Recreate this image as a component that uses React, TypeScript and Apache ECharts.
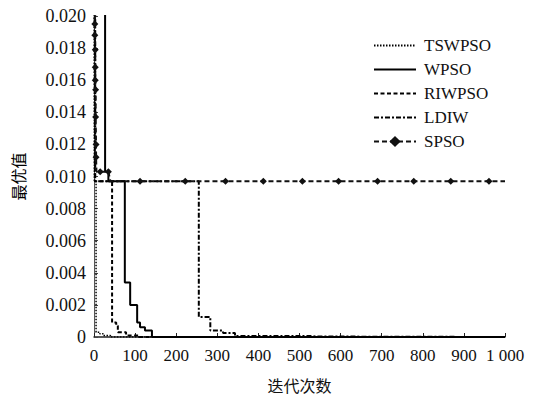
import React, { useEffect, useRef } from "react";
import * as echarts from "echarts";

const xTicks = [0, 100, 200, 300, 400, 500, 600, 700, 800, 900, 1000];
const yTicks = [0, 0.002, 0.004, 0.006, 0.008, 0.01, 0.012, 0.014, 0.016, 0.018, 0.02];
const seriesNames = ["TSWPSO", "WPSO", "RIWPSO", "LDIW", "SPSO"];

// step data: value holds from x until the next point
const tswpso: [number, number][] = [
  [0, 0.03], [1, 0.0097], [5, 0.0003], [14, 0.0002], [22, 0.0001], [40, 0], [1000, 0],
];
const wpso: [number, number][] = [
  [0, 0.03], [27, 0.0103], [35, 0.0097], [75, 0.0034], [88, 0.002], [105, 0.0009],
  [112, 0.0006], [124, 0.0004], [141, 0], [1000, 0],
];
const riwpso: [number, number][] = [
  [0, 0.03], [2, 0.0097], [44, 0.0009], [54, 0.0007], [58, 0.0003], [78, 0.0001], [110, 0], [1000, 0],
];
const ldiw: [number, number][] = [
  [0, 0.03], [3, 0.0097], [255, 0.00125], [283, 0.0004], [314, 0.00025], [343, 0.00006],
  [530, 0.00003], [540, 0], [1000, 0],
];
// SPSO points; marked = shows a marker
const spsoX = [0, 2, 2, 3, 3, 3, 4, 4, 5, 5, 6, 15, 35, 40, 112, 222, 320, 412, 507, 595, 690, 778, 868, 961, 1000];
const spsoY = [0.03, 0.0195, 0.0188, 0.0179, 0.0168, 0.016, 0.0154, 0.0137, 0.012, 0.0112, 0.0103, 0.0103, 0.0103, 0.0097,
  0.0097, 0.0097, 0.0097, 0.0097, 0.0097, 0.0097, 0.0097, 0.0097, 0.0097, 0.0097, 0.0097];
const spsoMarked = [0, 1, 1, 1, 1, 1, 1, 1, 1, 1, 0, 1, 1, 0, 1, 1, 1, 1, 1, 1, 1, 1, 1, 1, 0];

const FONT = "Liberation Serif";
const CJK = "Noto Sans CJK SC";

export default function App() {
  const ref = useRef<HTMLDivElement>(null);
  useEffect(() => {
    if (!ref.current) return;
    const chart = echarts.init(ref.current, null, { renderer: "svg" });
    const spsoData = spsoX.map((x, i) => ({
      value: [x, spsoY[i]],
      symbol: spsoMarked[i] ? "diamond" : "none",
    }));
    const base = {
      type: "line",
      showSymbol: false,
      symbol: "none",
      clip: true,
      silent: true,
    };
    chart.setOption({
      animation: false,
      backgroundColor: "#fff",
      textStyle: { fontFamily: FONT },
      grid: { left: 94, right: 35, top: 16, bottom: 64 },
      legend: {
        orient: "vertical",
        left: 368,
        top: 32,
        itemWidth: 42,
        itemHeight: 14,
        itemGap: 7,
        data: seriesNames.map((n) =>
          n === "SPSO" ? { name: n } : { name: n, itemStyle: { opacity: 0 } }
        ),
        textStyle: { fontFamily: FONT, fontSize: 17, color: "#111", padding: [0, 0, 0, 3] },
      },
      xAxis: {
        type: "value",
        min: 0,
        max: 1000,
        interval: 100,
        name: "迭代次数",
        nameLocation: "middle",
        nameGap: 40,
        nameTextStyle: { fontFamily: CJK, fontSize: 16, color: "#111" },
        axisLine: { show: true, lineStyle: { color: "#222", width: 1.5 } },
        axisTick: { show: true, inside: true, length: 4, lineStyle: { color: "#222" } },
        axisLabel: {
          fontFamily: FONT,
          fontSize: 17,
          color: "#111",
          margin: 10,
          formatter: (v: number) => (v === 1000 ? "1 000" : String(v)),
        },
        splitLine: { show: false },
      },
      yAxis: {
        type: "value",
        min: 0,
        max: 0.02,
        interval: 0.002,
        name: "最优值",
        nameLocation: "middle",
        nameRotate: 90,
        nameGap: 68,
        nameTextStyle: { fontFamily: CJK, fontSize: 16, color: "#000" },
        axisLine: { show: true, lineStyle: { color: "#555", width: 1 } },
        axisTick: { show: true, inside: true, length: 4, lineStyle: { color: "#444" } },
        axisLabel: {
          fontFamily: FONT,
          fontSize: 18,
          color: "#111",
          margin: 8,
          formatter: (v: number) => (v === 0 ? "0" : v.toFixed(3)),
        },
        splitLine: { show: false },
      },
      series: [
        {
          ...base,
          name: seriesNames[0],
          step: "end",
          data: tswpso,
          lineStyle: { color: "#000", width: 1.5, type: [1.5, 1.5] },
          itemStyle: { color: "#000" },
        },
        {
          ...base,
          name: seriesNames[1],
          step: "end",
          data: wpso,
          lineStyle: { color: "#000", width: 2, type: "solid" },
          itemStyle: { color: "#000" },
        },
        {
          ...base,
          name: seriesNames[2],
          step: "end",
          data: riwpso,
          lineStyle: { color: "#000", width: 2, type: [4, 2.5] },
          itemStyle: { color: "#000" },
        },
        {
          ...base,
          name: seriesNames[3],
          step: "end",
          data: ldiw,
          lineStyle: { color: "#000", width: 2, type: [5, 2, 2, 2] },
          itemStyle: { color: "#000" },
        },
        {
          ...base,
          name: seriesNames[4],
          showSymbol: true,
          symbol: "diamond",
          symbolSize: [7, 7],
          data: spsoData,
          lineStyle: { color: "#111", width: 2, type: [5, 3] },
          itemStyle: { color: "#111" },
        },
      ],
    });
    return () => chart.dispose();
  }, []);
  return <div ref={ref} style={{ width: 540, height: 401, position: "absolute", left: 0, top: 0 }} />;
}
